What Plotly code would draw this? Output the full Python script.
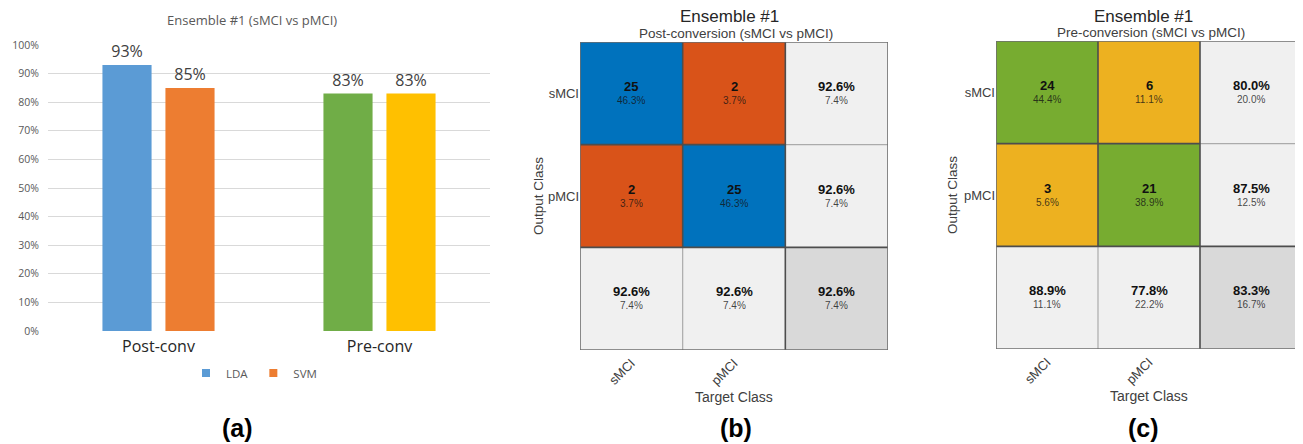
import plotly.graph_objects as go

# page has an 8px body margin; the figure is sized to fill the rest of the window
PAGE_W, PAGE_H = 1303, 444
OFF = 8
W, H = PAGE_W - OFF, PAGE_H - OFF

# ---------------- data ----------------
bar_categories = ["Post-conv", "Pre-conv"]
lda_values = [93, 83]
svm_values = [85, 83]
lda_colors = ["#5B9BD5", "#70AD47"]
svm_colors = ["#ED7D31", "#FFC000"]
y_ticks = list(range(0, 101, 10))
y_tick_labels = [f"{v}%" for v in y_ticks]

class_labels = ["sMCI", "pMCI"]
post_counts = [[25, 2], [2, 25]]
pre_counts = [[24, 6], [3, 21]]

post_title = "Ensemble #1"
post_subtitle = "Post-conversion (sMCI vs pMCI)"
pre_subtitle = "Pre-conversion (sMCI vs pMCI)"


def fx(px):
    return (px - OFF) / W


def fy(py):
    return 1 - (py - OFF) / H


fig = go.Figure()

# ---------------- panel (a) ----------------
for name, vals, cols in (("LDA", lda_values, lda_colors), ("SVM", svm_values, svm_colors)):
    fig.add_trace(go.Bar(
        x=bar_categories, y=vals, name=name, showlegend=False,
        marker=dict(color=cols, line=dict(width=0)),
        text=[f"{v}%" for v in vals], textposition="outside",
        textfont=dict(size=16, color="#404040", family="Open Sans"),
        cliponaxis=False, xaxis="x", yaxis="y",
    ))
# legend swatches
for name, cols in (("LDA", lda_colors), ("SVM", svm_colors)):
    fig.add_trace(go.Scatter(
        x=[None], y=[None], mode="markers", name=name,
        marker=dict(symbol="square", size=8, color=cols[0]),
        xaxis="x", yaxis="y",
    ))


def cm_cells(counts):
    n = len(counts)
    total = sum(sum(r) for r in counts)
    big, small, zidx = [], [], []
    for i in range(n + 1):
        brow, srow, zrow = [], [], []
        for j in range(n + 1):
            if i < n and j < n:
                c = counts[i][j]
                brow.append(f"{c}")
                srow.append(f"{100 * c / total:.1f}%")
                zrow.append(0 if i == j else 1)
            elif i < n and j == n:
                rs = sum(counts[i])
                p = 100 * counts[i][i] / rs
                brow.append(f"{p:.1f}%")
                srow.append(f"{100 - p:.1f}%")
                zrow.append(2)
            elif i == n and j < n:
                cs = sum(counts[k][j] for k in range(n))
                p = 100 * counts[j][j] / cs
                brow.append(f"{p:.1f}%")
                srow.append(f"{100 - p:.1f}%")
                zrow.append(2)
            else:
                corr = sum(counts[k][k] for k in range(n))
                p = 100 * corr / total
                brow.append(f"{p:.1f}%")
                srow.append(f"{100 - p:.1f}%")
                zrow.append(3)
        big.append(brow)
        small.append(srow)
        zidx.append(zrow)
    return big, small, zidx


def add_cm(counts, xa, ya, c_ok, c_bad):
    big, small, zidx = cm_cells(counts)
    cs = [[0, c_ok], [1 / 6, c_ok], [1 / 6, c_bad], [0.5, c_bad],
          [0.5, "#F0F0F0"], [5 / 6, "#F0F0F0"], [5 / 6, "#D9D9D9"], [1, "#D9D9D9"]]
    fig.add_trace(go.Heatmap(
        z=zidx, x=[0, 1, 2], y=[0, 1, 2], zmin=0, zmax=3,
        colorscale=cs, showscale=False, hoverinfo="skip", showlegend=False,
        xaxis=xa, yaxis=ya,
    ))
    for i in range(3):
        for j in range(3):
            fig.add_annotation(x=j, y=i, xref=xa, yref=ya, text=f"<b>{big[i][j]}</b>",
                               showarrow=False, yshift=7,
                               font=dict(size=13, color="#111111", family="Liberation Sans"))
            fig.add_annotation(x=j, y=i, xref=xa, yref=ya, text=small[i][j],
                               showarrow=False, yshift=-7,
                               font=dict(size=10, color="rgba(20,20,20,0.8)", family="Liberation Sans"))
    dark = dict(color="#4D4D4D", width=1.6)
    light = dict(color="#ABABAB", width=1.2)
    segs = [
        (0.5, 1.5, 0.5, 2.5, light),
        (1.5, 0.5, 2.5, 0.5, light),
        (0.5, -0.5, 0.5, 1.5, dark),
        (-0.5, 0.5, 1.5, 0.5, dark),
        (1.5, -0.5, 1.5, 2.5, dark),
        (-0.5, 1.5, 2.5, 1.5, dark),
    ]
    for x0, y0, x1, y1, ln in segs:
        fig.add_shape(type="line", x0=x0, y0=y0, x1=x1, y1=y1, xref=xa, yref=ya, line=ln)
    fig.add_shape(type="rect", x0=-0.5, y0=-0.5, x1=2.5, y1=2.5, xref=xa, yref=ya,
                  line=dict(color="#6E6E6E", width=1.6))


add_cm(post_counts, "x2", "y2", "#0072BD", "#D95319")
add_cm(pre_counts, "x3", "y3", "#77AC30", "#EDB120")

cm_x = dict(tickmode="array", tickvals=[0, 1], ticktext=class_labels, tickangle=-45,
            range=[-0.5, 2.5], showgrid=False, zeroline=False, ticks="", automargin=False,
            ticklabelstandoff=2,
            tickfont=dict(size=13, color="#404040", family="Liberation Sans"))
cm_y = dict(tickmode="array", tickvals=[0, 1], ticktext=class_labels,
            range=[2.5, -0.5], showgrid=False, zeroline=False, ticks="", automargin=False,
            tickfont=dict(size=13, color="#404040", family="Liberation Sans"))

fig.update_layout(
    width=W, height=H,
    margin=dict(l=0, r=0, t=0, b=0, autoexpand=False),
    paper_bgcolor="white", plot_bgcolor="white",
    barmode="group", bargap=0.43, bargroupgap=0.22,
    showlegend=True,
    legend=dict(orientation="h", x=fx(254), y=fy(373), xanchor="center", yanchor="middle",
                font=dict(size=11.5, color="#595959", family="Open Sans"),
                itemwidth=30, tracegroupgap=0, bgcolor="rgba(0,0,0,0)"),
    xaxis=dict(domain=[fx(48), fx(490)], showgrid=False, zeroline=False, showline=False,
               automargin=False, ticklabelstandoff=4,
               tickfont=dict(size=16, color="#262626", family="Open Sans"), ticks=""),
    yaxis=dict(domain=[fy(331), fy(45)], range=[0, 100], tickmode="array",
               tickvals=y_ticks, ticktext=y_tick_labels, ticklabelstandoff=8,
               showgrid=True, gridcolor="#D9D9D9", gridwidth=1, automargin=False,
               zeroline=False, showline=False, ticks="",
               tickfont=dict(size=10.5, color="#595959", family="Open Sans")),
    xaxis2=dict(domain=[fx(580), fx(888)], anchor="y2", **cm_x),
    yaxis2=dict(domain=[fy(350), fy(42)], anchor="x2", **cm_y),
    xaxis3=dict(domain=[fx(996), fx(1302)], anchor="y3", **cm_x),
    yaxis3=dict(domain=[fy(349), fy(41)], anchor="x3", **cm_y),
)


def ann(text, x, y, size, color, family="Liberation Sans", angle=0):
    fig.add_annotation(text=text, x=fx(x), y=fy(y), xref="paper", yref="paper",
                       showarrow=False, xanchor="center", yanchor="middle",
                       textangle=angle, font=dict(size=size, color=color, family=family))


ann("Ensemble #1 (sMCI vs pMCI)", 252, 20, 13, "#595959", "Open Sans")
ann(post_title, 729, 16, 17, "#262626")
ann(post_subtitle, 736, 33, 13.5, "#404040")
ann(post_title, 1143, 16, 17, "#262626")
ann(pre_subtitle, 1151, 32, 13.5, "#404040")
ann("Output Class", 538, 196, 13.5, "#404040", angle=-90)
ann("Output Class", 953, 195, 13.5, "#404040", angle=-90)
ann("Target Class", 734, 397, 14, "#404040")
ann("Target Class", 1149, 396, 14, "#404040")
ann("<b>(a)</b>", 237, 428, 25, "#000000")
ann("<b>(b)</b>", 736, 428, 25, "#000000")
ann("<b>(c)</b>", 1143, 428, 25, "#000000")

fig.write_html("out.html")
